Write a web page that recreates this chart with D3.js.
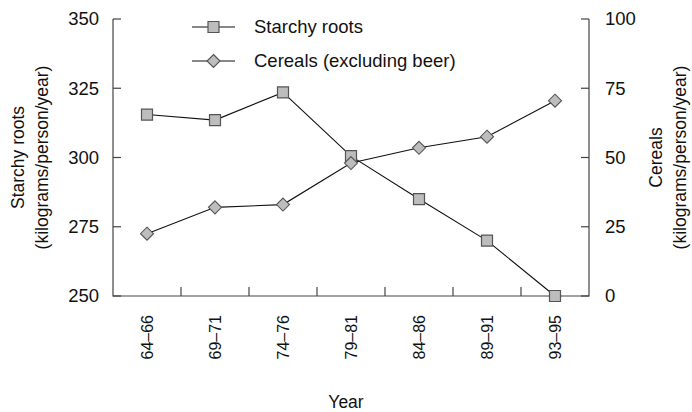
<!DOCTYPE html>
<html>
<head>
<meta charset="utf-8">
<script src="https://cdn.jsdelivr.net/npm/d3@7"></script>
<style>
  html, body { margin: 0; padding: 0; background: #fff; }
  svg text { font-family: "Liberation Sans", Arial, Helvetica, sans-serif; fill: #111; }
</style>
</head>
<body>
<svg id="chart" width="692" height="412"></svg>
<script>
// Per-capita food supply by period
const periods = ["64\u201366", "69\u201371", "74\u201376", "79\u201381", "84\u201386", "89\u201391", "93\u201395"];
const starchyRoots = [315.5, 313.5, 323.5, 300.5, 285, 270, 250];
const cereals = [22.5, 32, 33, 48, 53.5, 57.5, 70.5];
const leftTicks = [250, 275, 300, 325, 350];
const rightTicks = [0, 25, 50, 75, 100];
const seriesNames = ["Starchy roots", "Cereals (excluding beer)"];

const svg = d3.select("#chart");
const margin = { left: 113, right: 103, top: 19, bottom: 116 };
const W = 692, H = 412;
const x0 = margin.left, x1 = W - margin.right;
const y0 = H - margin.bottom, y1 = margin.top;

const x = d3.scaleBand().domain(periods).range([x0, x1]).padding(0);
const yL = d3.scaleLinear().domain([250, 350]).range([y0, y1]);
const yR = d3.scaleLinear().domain([0, 100]).range([y0, y1]);

const axisColor = "#444";
const g = svg.append("g");

// axis frame: left, bottom, right
g.append("path")
  .attr("d", `M${x0},${y1}V${y0}H${x1}V${y1}`)
  .attr("fill", "none").attr("stroke", axisColor).attr("stroke-width", 1.2);

// left ticks (inward)
leftTicks.forEach(t => {
  g.append("line").attr("x1", x0).attr("x2", x0 + 8)
    .attr("y1", yL(t)).attr("y2", yL(t))
    .attr("stroke", axisColor).attr("stroke-width", 1.2);
  g.append("text").attr("x", x0 - 14).attr("y", yL(t))
    .attr("dy", "0.35em").attr("text-anchor", "end")
    .attr("font-size", 18.5).text(t);
});

// right ticks (inward)
rightTicks.forEach(t => {
  g.append("line").attr("x1", x1).attr("x2", x1 - 8)
    .attr("y1", yR(t)).attr("y2", yR(t))
    .attr("stroke", axisColor).attr("stroke-width", 1.2);
  g.append("text").attr("x", x1 + 16).attr("y", yR(t))
    .attr("dy", "0.35em").attr("text-anchor", "start")
    .attr("font-size", 18.5).text(t);
});

// bottom ticks at band boundaries
periods.slice(1).forEach(p => {
  const xp = x(p);
  g.append("line").attr("x1", xp).attr("x2", xp)
    .attr("y1", y0).attr("y2", y0 - 9)
    .attr("stroke", axisColor).attr("stroke-width", 1.2);
});

// rotated period labels
periods.forEach(p => {
  const cx = x(p) + x.bandwidth() / 2;
  g.append("text")
    .attr("transform", `translate(${cx},${y0 + 19}) rotate(-90)`)
    .attr("text-anchor", "end").attr("dy", "0.35em")
    .attr("font-size", 16).text(p);
});

// axis titles
g.append("text").attr("x", 346).attr("y", 408)
  .attr("text-anchor", "middle").attr("font-size", 17.5).text("Year");

const midY = (y0 + y1) / 2;
const leftTitle = g.append("text")
  .attr("transform", `translate(24,${midY}) rotate(-90)`)
  .attr("text-anchor", "middle").attr("font-size", 17.5);
leftTitle.append("tspan").attr("x", 0).attr("dy", 0).text("Starchy roots");
leftTitle.append("tspan").attr("x", 0).attr("dy", "1.38em").text("(kilograms/person/year)");

const rightTitle = g.append("text")
  .attr("transform", `translate(662,${midY}) rotate(-90)`)
  .attr("text-anchor", "middle").attr("font-size", 17.5);
rightTitle.append("tspan").attr("x", 0).attr("dy", 0).text("Cereals");
rightTitle.append("tspan").attr("x", 0).attr("dy", "1.38em").text("(kilograms/person/year)");

const cx = p => x(p) + x.bandwidth() / 2;

// series lines
const lineL = d3.line().x((d, i) => cx(periods[i])).y(d => yL(d));
const lineR = d3.line().x((d, i) => cx(periods[i])).y(d => yR(d));

g.append("path").attr("d", lineR(cereals))
  .attr("fill", "none").attr("stroke", "#111").attr("stroke-width", 1.1);
g.append("path").attr("d", lineL(starchyRoots))
  .attr("fill", "none").attr("stroke", "#111").attr("stroke-width", 1.1);

const markFill = "#bdbdbd", markStroke = "#555";
const square = d3.symbol().type(d3.symbolSquare).size(121);
const diamond = (s) => `M0,${-s}L${s},0L0,${s}L${-s},0Z`;

// square markers
g.selectAll(".sq").data(starchyRoots).join("path")
  .attr("class", "sq")
  .attr("transform", (d, i) => `translate(${cx(periods[i])},${yL(d)})`)
  .attr("d", square()).attr("fill", markFill).attr("stroke", markStroke).attr("stroke-width", 1.2);

// diamond markers
g.selectAll(".dm").data(cereals).join("path")
  .attr("class", "dm")
  .attr("transform", (d, i) => `translate(${cx(periods[i])},${yR(d)})`)
  .attr("d", diamond(6.5)).attr("fill", markFill).attr("stroke", markStroke).attr("stroke-width", 1.1);

// legend
const legend = g.append("g");
const legRows = [27, 61];
seriesNames.forEach((name, i) => {
  const ly = legRows[i];
  legend.append("line").attr("x1", 192).attr("x2", 235).attr("y1", ly).attr("y2", ly)
    .attr("stroke", "#111").attr("stroke-width", 1.1);
  legend.append("path").attr("transform", `translate(213.5,${ly})`)
    .attr("d", i === 0 ? square() : diamond(6.5))
    .attr("fill", markFill).attr("stroke", markStroke).attr("stroke-width", 1.2);
  legend.append("text").attr("x", 254).attr("y", ly).attr("dy", "0.35em")
    .attr("font-size", 18.5).text(name);
});
</script>
</body>
</html>
